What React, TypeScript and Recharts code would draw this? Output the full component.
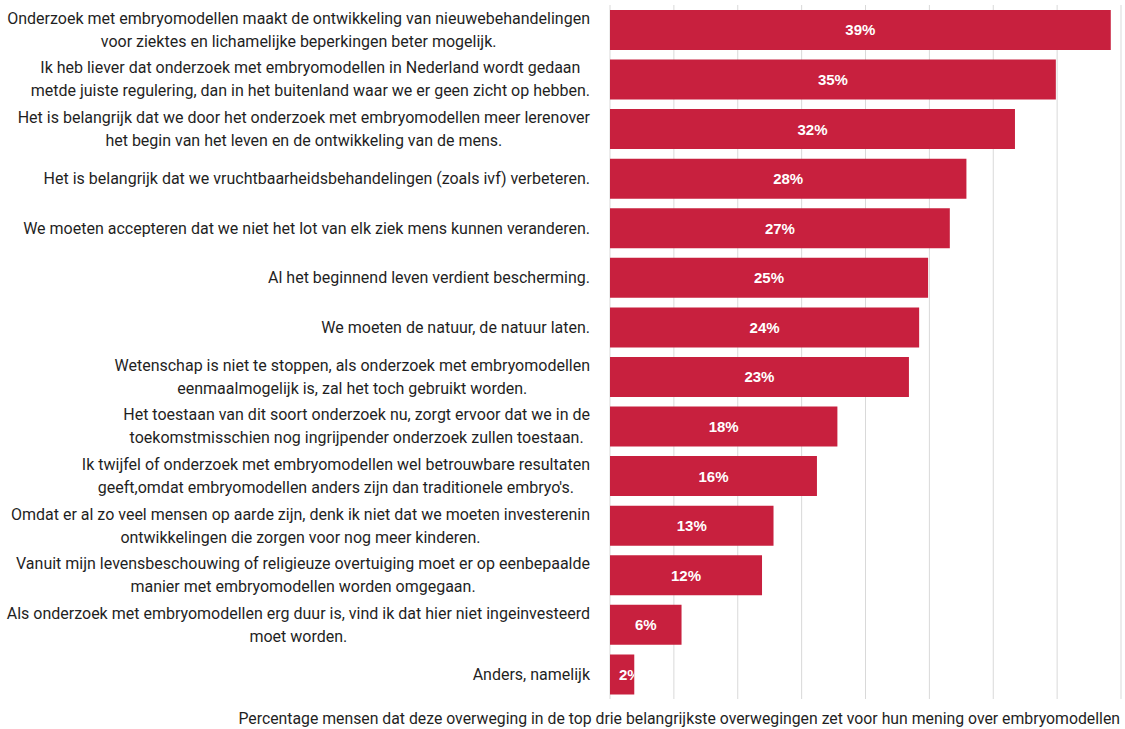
import React from 'react';
import { BarChart, Bar, XAxis, YAxis, CartesianGrid, LabelList } from 'recharts';

// answer texts, already split where the reference wraps them
const statements: string[][] = [
  ['Onderzoek met embryomodellen maakt de ontwikkeling van nieuwebehandelingen', 'voor ziektes en lichamelijke beperkingen beter mogelijk.'],
  ['Ik heb liever dat onderzoek met embryomodellen in Nederland wordt gedaan', 'metde juiste regulering, dan in het buitenland waar we er geen zicht op hebben.'],
  ['Het is belangrijk dat we door het onderzoek met embryomodellen meer lerenover', 'het begin van het leven en de ontwikkeling van de mens.'],
  ['Het is belangrijk dat we vruchtbaarheidsbehandelingen (zoals ivf) verbeteren.'],
  ['We moeten accepteren dat we niet het lot van elk ziek mens kunnen veranderen.'],
  ['Al het beginnend leven verdient bescherming.'],
  ['We moeten de natuur, de natuur laten.'],
  ['Wetenschap is niet te stoppen, als onderzoek met embryomodellen', 'eenmaalmogelijk is, zal het toch gebruikt worden.'],
  ['Het toestaan van dit soort onderzoek nu, zorgt ervoor dat we in de', 'toekomstmisschien nog ingrijpender onderzoek zullen toestaan.'],
  ['Ik twijfel of onderzoek met embryomodellen wel betrouwbare resultaten', "geeft,omdat embryomodellen anders zijn dan traditionele embryo's."],
  ['Omdat er al zo veel mensen op aarde zijn, denk ik niet dat we moeten investerenin', 'ontwikkelingen die zorgen voor nog meer kinderen.'],
  ['Vanuit mijn levensbeschouwing of religieuze overtuiging moet er op eenbepaalde', 'manier met embryomodellen worden omgegaan.'],
  ['Als onderzoek met embryomodellen erg duur is, vind ik dat hier niet ingeinvesteerd', 'moet worden.'],
  ['Anders, namelijk'],
];

const shares = [39.2, 34.9, 31.7, 27.9, 26.6, 24.9, 24.2, 23.4, 17.8, 16.2, 12.8, 11.9, 5.6, 1.9];
const shareLabels = ['39%', '35%', '32%', '28%', '27%', '25%', '24%', '23%', '18%', '16%', '13%', '12%', '6%', '2%'];

const gridTicks = [0, 5, 10, 15, 20, 25, 30, 35, 40];
const axisTitle =
  'Percentage mensen dat deze overweging in de top drie belangrijkste overwegingen zet voor hun mening over embryomodellen';

const data = statements.map((lines, i) => ({
  key: 'q' + i,
  lines,
  share: shares[i],
  label: shareLabels[i],
}));

const TEXT_FONT = 'Roboto, "Noto Sans", sans-serif';
const TEXT_SIZE = 16;
const LABEL_RIGHT = 590;
const BAR_COLOR = '#c8203e';

let ctx: CanvasRenderingContext2D | null = null;
function textWidth(text: string, font: string) {
  if (!ctx) ctx = document.createElement('canvas').getContext('2d');
  if (!ctx) return text.length * 7;
  ctx.font = font;
  return ctx.measureText(text).width;
}

function StatementTick(props: any) {
  const { y, payload } = props;
  const row = data.find(d => d.key === payload.value);
  if (!row) return null;
  const font = `${TEXT_SIZE}px ${TEXT_FONT}`;
  const maxW = Math.max(...row.lines.map(l => textWidth(l, font)));
  const cx = LABEL_RIGHT - maxW / 2;
  const lineH = 23;
  const top = y - ((row.lines.length - 1) * lineH) / 2;
  return (
    <g>
      {row.lines.map((l, i) => (
        <text
          key={i}
          x={cx}
          y={top + i * lineH}
          textAnchor="middle"
          dominantBaseline="central"
          fontFamily={TEXT_FONT}
          fontSize={TEXT_SIZE}
          fill="#1f1f1f"
        >
          {l}
        </text>
      ))}
    </g>
  );
}

function ShareLabel(props: any) {
  const { x, y, width, height, index, value } = props;
  const font = 'bold 15px "Liberation Sans", Arial, sans-serif';
  const w = textWidth(String(value), font);
  const tight = width < w + 10;
  const id = 'clip-share-' + index;
  return (
    <g>
      <defs>
        <clipPath id={id}>
          <rect x={x} y={y} width={width} height={height} />
        </clipPath>
      </defs>
      <text
        x={tight ? x + 9 : x + width / 2}
        y={y + height / 2}
        textAnchor={tight ? 'start' : 'middle'}
        dominantBaseline="central"
        fontFamily='"Liberation Sans", Arial, sans-serif'
        fontWeight="bold"
        fontSize={15}
        fill="#ffffff"
        clipPath={`url(#${id})`}
      >
        {value}
      </text>
    </g>
  );
}

function AxisTitle(props: any) {
  const vb = props.viewBox || {};
  return (
    <text
      x={vb.x + vb.width - 1}
      y={vb.y + 19}
      textAnchor="end"
      dominantBaseline="central"
      fontFamily={TEXT_FONT}
      fontSize={15.8}
      fill="#1f1f1f"
    >
      {axisTitle}
    </text>
  );
}

function gridX(props: any) {
  const { xAxis, offset } = props;
  if (xAxis && typeof xAxis.scale === 'function') {
    return gridTicks.map(t => xAxis.scale(t));
  }
  return gridTicks.map(t => offset.left + (t / 40) * offset.width);
}

export default function App() {
  return (
    <div style={{ position: 'absolute', left: 0, top: 0, background: '#ffffff' }}>
      <BarChart
        width={1125}
        height={729}
        data={data}
        layout="vertical"
        margin={{ top: 5, right: 4, bottom: 0, left: 0 }}
        barCategoryGap="10%"
      >
        <CartesianGrid
          horizontal={false}
          stroke="#d9d9d9"
          strokeWidth={1}
          verticalCoordinatesGenerator={gridX}
        />
        <XAxis
          type="number"
          domain={[0, 40]}
          ticks={gridTicks}
          tick={false}
          axisLine={false}
          tickLine={false}
          height={30}
          label={<AxisTitle />}
        />
        <YAxis
          type="category"
          dataKey="key"
          width={610}
          axisLine={false}
          tickLine={false}
          interval={0}
          tick={<StatementTick />}
        />
        <Bar dataKey="share" fill={BAR_COLOR} isAnimationActive={false}>
          <LabelList dataKey="label" content={<ShareLabel />} />
        </Bar>
      </BarChart>
    </div>
  );
}
